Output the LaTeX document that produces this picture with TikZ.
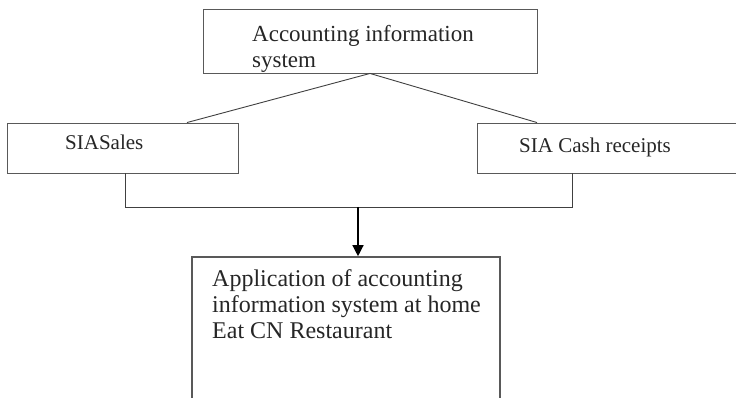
\documentclass[tikz,border=0pt]{standalone}
\usepackage{fontspec}
\setmainfont{Liberation Serif}
\usetikzlibrary{arrows.meta,positioning,calc}
\tikzset{box/.style={draw=black!65,line width=0.9pt,inner sep=0pt},
  lbl/.style={anchor=base west,inner sep=0pt,align=left,text=black!85},
  conn/.style={draw=black!75,line width=0.9pt},
  arr/.style={-{Triangle[length=11pt,width=11pt]},line width=1.3pt}}

\begin{document}
\begin{tikzpicture}[x=1pt,y=-1pt]
\useasboundingbox (0,0) rectangle (736,398);
% boxes
\node[box,minimum width=334pt,minimum height=64pt] (ais) at (370,41) {};
\node[box,minimum width=231pt,minimum height=50pt] (sales) at (122.5,148) {};
\node[box,minimum width=283pt,minimum height=50pt] (cash) at (618.5,148) {};
\node[box,line width=1.6pt,minimum width=308pt,minimum height=163pt] (app) at (346,338.5) {};
% texts (base = last line)
\node[lbl,font=\fontsize{23}{26}\selectfont] (aisT) at (252,68) {Accounting information\\system};
\node[lbl,font=\fontsize{21}{25}\selectfont] (salesT) at (65,150) {SIASales};
\node[lbl,font=\fontsize{21}{25}\selectfont] (cashT) at (519,152.5) {SIA Cash receipts};
\node[lbl,font=\fontsize{24}{26}\selectfont] (appT) at (212,338) {Application of accounting\\information system at home\\Eat CN Restaurant};
% connectors
\coordinate (sTop) at (187,0);
\coordinate (cTop) at (537,0);
\coordinate (sLeg) at (125,207);
\coordinate (cLeg) at (572,207);
\coordinate (join) at (358,207);
\draw[conn] (sales.north -| sTop) -- (ais.south) -- (cash.north -| cTop);
\draw[conn] (sales.south -| sLeg) -- (sLeg) -- (cLeg) -- (cash.south -| cLeg);
\draw[arr] (join) -- (app.north -| join);
\end{tikzpicture}
\end{document}
